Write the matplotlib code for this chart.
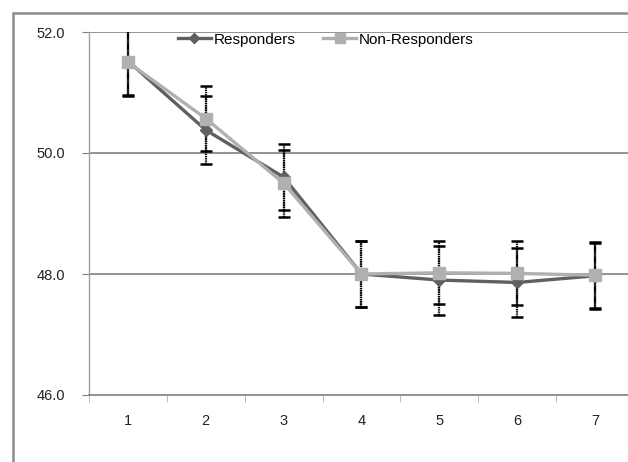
import matplotlib
matplotlib.use("Agg")
import matplotlib.pyplot as plt
from matplotlib.patches import Rectangle
from matplotlib.ticker import FixedLocator

categories = [1, 2, 3, 4, 5, 6, 7]
responders = [51.52, 50.38, 49.60, 48.00, 47.90, 47.86, 47.97]
responders_err = [0.56, 0.56, 0.55, 0.55, 0.57, 0.57, 0.55]
non_responders = [51.50, 50.57, 49.50, 48.00, 48.02, 48.01, 47.98]
non_responders_err = [0.55, 0.54, 0.55, 0.55, 0.52, 0.53, 0.55]
y_ticks = [46.0, 48.0, 50.0, 52.0]

W, H = 628, 462
fig = plt.figure(figsize=(W / 100, H / 100), dpi=100)
plt.rcParams['font.family'] = ['Liberation Sans', 'DejaVu Sans']

# outer chart border
fig.patches.append(Rectangle((13 / W, -0.1), 1.2, 1 - 13 / H + 0.1,
                             transform=fig.transFigure, fill=False,
                             edgecolor='#8c8c8c', linewidth=1.8))

left, right, top, bottom = 89, 634, 32, 395
ax = fig.add_axes([left / W, 1 - bottom / H, (right - left) / W, (bottom - top) / H])
ax.set_xlim(0.5, 7.5)
ax.set_ylim(46, 52)

for s in ['top', 'right']:
    ax.spines[s].set_visible(False)
ax.spines['left'].set_color('#a0a0a0')
ax.spines['bottom'].set_color('#808080')
ax.spines['left'].set_linewidth(1.0)
ax.spines['bottom'].set_linewidth(1.2)

ax.set_yticks(y_ticks)
ax.set_yticklabels([f"{v:.1f}" for v in y_ticks])
for v in y_ticks[1:]:
    ax.axhline(v, color='#808080', linewidth=1.2, zorder=1)

ax.set_xticks(categories)
ax.set_xticklabels([str(c) for c in categories])
ax.xaxis.set_minor_locator(FixedLocator([c - 0.5 for c in categories] + [7.5]))
ax.tick_params(axis='x', which='major', length=0, pad=14, labelsize=10.5, labelcolor='#222222')
ax.tick_params(axis='x', which='minor', length=5, color='#b0b0b0', direction='out')
ax.tick_params(axis='y', length=5, color='#808080', labelsize=10.5, labelcolor='#222222', pad=12)

eb_kw = dict(fmt='none', ecolor='black', elinewidth=1.6, capsize=4, capthick=1.8, zorder=2)
e1 = ax.errorbar(categories, responders, yerr=responders_err, **eb_kw)
e2 = ax.errorbar(categories, non_responders, yerr=non_responders_err, **eb_kw)
for e in (e1, e2):
    for lc in e[2]:
        lc.set_linestyle((0, (0.6, 0.4)))

ax.plot(categories, responders, color='#606060', linewidth=2.4, marker='D',
        markersize=6, label='Responders', zorder=3)
ax.plot(categories, non_responders, color='#b0b0b0', linewidth=2.4, marker='s',
        markersize=9, label='Non-Responders', zorder=4)

leg = ax.legend(loc='upper left', bbox_to_anchor=(176 / W, 1 - 31 / H), bbox_transform=fig.transFigure,
                ncol=2, frameon=False, fontsize=11, handlelength=2.2, handletextpad=0.15,
                columnspacing=1.8, borderpad=0.1, borderaxespad=0, markerscale=0.8)

fig.savefig('out.png', dpi=100)
